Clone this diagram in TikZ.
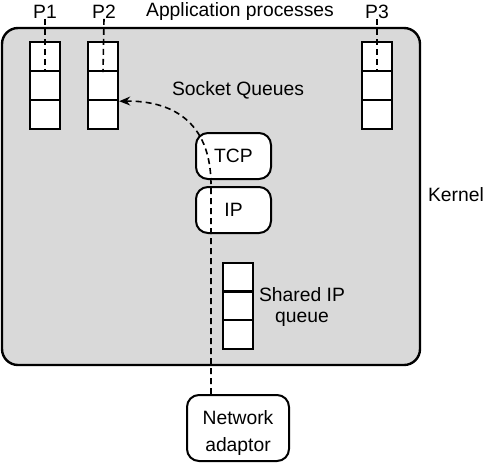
\documentclass[tikz,border=0pt]{standalone}
\usepackage{fontspec}
\setmainfont{Liberation Sans}
\usetikzlibrary{arrows.meta}
\definecolor{kernelgray}{RGB}{217,217,217}
\begin{document}
\begin{tikzpicture}[x=1pt,y=-1pt,
  lbl/.style={font=\fontsize{19.3}{21}\selectfont, inner sep=0pt},
  cell/.style={draw=black, line width=2.4pt, fill=white, minimum width=30pt, minimum height=29pt, inner sep=0pt},
  rbox/.style={draw=black, line width=2pt, fill=white, rounded corners=12pt, inner sep=0pt},
  dline/.style={line width=1.6pt, dash pattern=on 6pt off 4pt}
]
\useasboundingbox (0,0) rectangle (486,464);
% kernel
\node[draw=black, line width=2.4pt, fill=kernelgray, rounded corners=16pt, minimum width=418pt, minimum height=337pt, inner sep=0pt] (kernel) at (211,196.5) {};
% labels
\node[lbl] (app) at (240,12) {Application processes};
\node[lbl] (pl1) at (45,12) {P1};
\node[lbl] (pl2) at (104,12) {P2};
\node[lbl] (pl3) at (377,12) {P3};
\node[lbl] (sq) at (238,90) {Socket Queues};
\node[lbl] (kl) at (456,195) {Kernel};
% queues
\foreach \n/\x in {p1/45, p2/103, p3/377}{
  \node[cell] (\n a) at (\x,56.5) {};
  \node[cell] (\n b) at (\x,85.5) {};
  \node[cell] (\n c) at (\x,114.5) {};
}
\node[cell] (sa) at (238,277.5) {};
\node[cell] (sb) at (238,306) {};
\node[cell] (sc) at (238,334.5) {};
\node[lbl, align=center] (sl) at (302,307) {Shared IP\\queue};
% protocol boxes
\node[rbox, minimum width=75pt, minimum height=46pt] (tcp) at (233.5,156) {};
\node[lbl] at (tcp.center) {TCP};
\node[rbox, minimum width=75pt, minimum height=46pt] (ip) at (233.5,210) {};
\node[lbl] at (ip.center) {IP};
\node[rbox, minimum width=102pt, minimum height=66pt] (ad) at (238,428) {};
\node[lbl, align=center, font=\fontsize{19.3}{27}\selectfont] at (238,433) {Network\\adaptor};
% dashed lines from process labels
\draw[dline] (pl1.south) -- (p1a.south);
\draw[dline] (pl2.south) -- (p2a.south);
\draw[dline] (pl3.south) -- (p3a.south);
% packet path
\coordinate (turn) at (211,185);
\draw[dline, -{Stealth[length=11pt,width=9pt]}] (turn |- ad.north) -- (turn) .. controls (211,120) and (170,100.5) .. (p2b.south east);
\end{tikzpicture}
\end{document}
